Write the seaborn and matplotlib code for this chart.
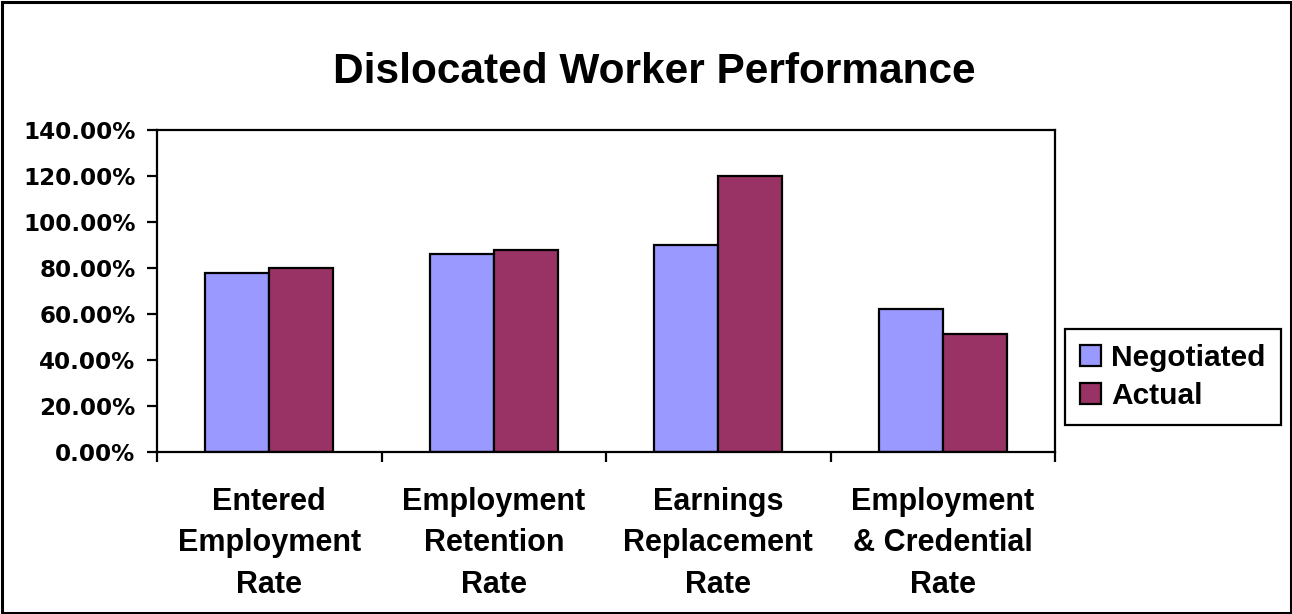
import matplotlib
matplotlib.use("Agg")
import matplotlib.pyplot as plt
import seaborn as sns
import pandas as pd
from matplotlib.ticker import PercentFormatter, FixedLocator
from matplotlib.patches import Rectangle

categories = ["Entered\nEmployment\nRate", "Employment\nRetention\nRate",
              "Earnings\nReplacement\nRate", "Employment\n& Credential\nRate"]
series = ["Negotiated", "Actual"]
negotiated = [78.0, 86.0, 90.0, 62.0]
actual = [80.0, 88.0, 120.0, 51.5]
yticks = [0, 20, 40, 60, 80, 100, 120, 140]
colors = ["#9999FF", "#993366"]

df = pd.DataFrame({
    "category": categories * 2,
    "series": [series[0]] * 4 + [series[1]] * 4,
    "value": negotiated + actual,
})

sns.set_style("white")
plt.rcParams["font.family"] = ["Liberation Sans", "DejaVu Sans"]
plt.rcParams["font.weight"] = "bold"
for k in ["text.color", "axes.labelcolor", "xtick.color", "ytick.color"]:
    plt.rcParams[k] = "black"

W, H = 1292, 614
fig = plt.figure(figsize=(W / 100, H / 100), dpi=100)
ax = fig.add_axes([157 / W, 1 - 452 / H, (1055 - 157) / W, (452 - 130) / H])

sns.barplot(data=df, x="category", y="value", hue="series", order=categories,
            hue_order=series, palette=colors, saturation=1, width=0.5714,
            edgecolor="black", linewidth=1.6, errorbar=None, ax=ax, legend=False)

ax.set_ylim(0, 140)
ax.set_xlim(-0.5, 3.5)
ax.yaxis.set_major_locator(FixedLocator(yticks))
ax.yaxis.set_major_formatter(PercentFormatter(xmax=100, decimals=2))
ax.set_xlabel("")
ax.set_ylabel("")

for s in ax.spines.values():
    s.set_visible(True)
    s.set_color("black")
    s.set_linewidth(1.6)

ax.tick_params(axis="y", which="major", direction="out", length=7.5, width=1.6,
               color="black", labelcolor="black", pad=8, left=True)
for lab in ax.get_yticklabels():
    lab.set_fontfamily("DejaVu Sans")
    lab.set_fontsize(16.6)
    lab.set_fontweight("bold")

ax.set_xticks([-0.5, 0.5, 1.5, 2.5, 3.5], minor=True)
ax.tick_params(axis="x", which="minor", direction="out", length=7, width=1.6,
               color="black", bottom=True)
ax.tick_params(axis="x", which="major", length=0, pad=25, labelcolor="black")
for lab in ax.get_xticklabels():
    lab.set_fontsize(22)
    lab.set_fontweight("bold")
    lab.set_linespacing(1.5)

fig.text(654 / W, 1 - 83 / H, "Dislocated Worker Performance", ha="center",
         va="baseline", fontsize=30.5, fontweight="bold", color="black")

handles = [Rectangle((0, 0), 1, 1, facecolor=c, edgecolor="black", linewidth=1.6)
           for c in colors]
leg = fig.legend(handles, series, loc="upper left",
                 bbox_to_anchor=(1065 / W, 1 - 329 / H), borderaxespad=0,
                 prop={"size": 21.5, "weight": "bold"}, frameon=True, fancybox=False,
                 framealpha=1, edgecolor="black",
                 handlelength=0.7, handleheight=0.7, handletextpad=0.35,
                 borderpad=0.5, labelspacing=0.35)
leg.get_frame().set_edgecolor("black")
leg.get_frame().set_linewidth(1.6)
for t in leg.get_texts():
    t.set_color("black")

fig.patches.append(Rectangle((1.5 / W, 1.5 / H), 1 - 3 / W, 1 - 3 / H,
                             transform=fig.transFigure, fill=False,
                             edgecolor="black", linewidth=2.2))

fig.savefig("out.png", dpi=100)
